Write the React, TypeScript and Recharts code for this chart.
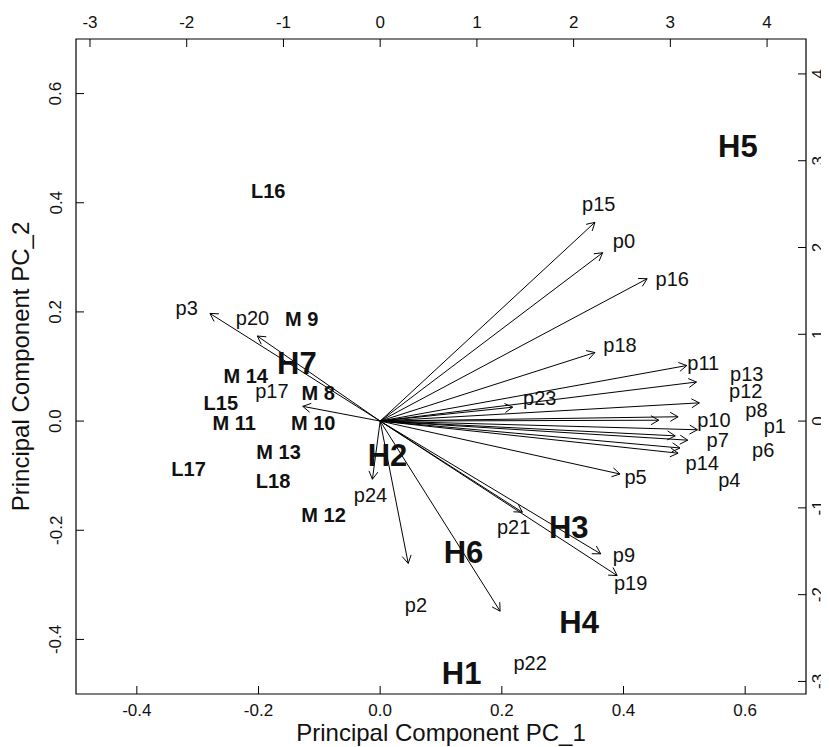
import React from 'react';
import { ScatterChart, Scatter, XAxis, YAxis, ReferenceLine, ReferenceArea } from 'recharts';

// ---- Observations (scores, bottom/left axes: PC_1, PC_2) ----
const obsNames = ['H1', 'H2', 'H3', 'H4', 'H5', 'H6', 'H7', 'M 8', 'M 9', 'M 10', 'M 11', 'M 12', 'M 13', 'M 14', 'L15', 'L16', 'L17', 'L18'];
const obsPC1 = [0.134, 0.012, 0.310, 0.327, 0.588, 0.137, -0.137, -0.102, -0.129, -0.110, -0.240, -0.093, -0.167, -0.221, -0.262, -0.184, -0.315, -0.176];
const obsPC2 = [-0.462, -0.062, -0.194, -0.368, 0.504, -0.239, 0.106, 0.051, 0.188, -0.003, -0.003, -0.172, -0.056, 0.083, 0.033, 0.422, -0.088, -0.109];

// ---- Variables (loadings, top/right axes) ----
const varNames = ['p0', 'p1', 'p2', 'p3', 'p4', 'p5', 'p6', 'p7', 'p8', 'p9', 'p10', 'p11', 'p12', 'p13', 'p14', 'p15', 'p16', 'p17', 'p18', 'p19', 'p20', 'p21', 'p22', 'p23', 'p24'];
const varTipX = [2.30, 3.28, 0.29, -1.76, 3.08, 2.48, 3.18, 3.05, 3.08, 2.28, 2.88, 3.17, 3.30, 3.27, 3.10, 2.22, 2.76, -0.80, 2.22, 2.45, -1.27, 1.47, 1.24, 1.37, -0.08];
const varTipY = [1.94, -0.10, -1.64, 1.24, -0.37, -0.61, -0.22, -0.17, 0.05, -1.53, 0.01, 0.64, 0.21, 0.45, -0.31, 2.29, 1.64, 0.17, 0.79, -1.78, 0.98, -1.05, -2.19, 0.16, -0.67];
const varLabelX = [2.52, 4.08, 0.37, -2.00, 3.61, 2.64, 3.96, 3.49, 3.89, 2.52, 3.45, 3.34, 3.78, 3.79, 3.33, 2.26, 3.02, -1.12, 2.48, 2.59, -1.32, 1.38, 1.55, 1.65, -0.10];
const varLabelY = [2.05, -0.08, -2.14, 1.28, -0.70, -0.67, -0.35, -0.24, 0.10, -1.57, -0.01, 0.65, 0.32, 0.52, -0.50, 2.48, 1.62, 0.32, 0.86, -1.89, 1.16, -1.24, -2.81, 0.24, -0.87];

// ---- Axes ----
const pcTicks = [-0.4, -0.2, 0.0, 0.2, 0.4, 0.6];
const loadTicks = [-3, -2, -1, 0, 1, 2, 3, 4];
const pcDomain: [number, number] = [-0.5, 0.7];
const loadRatio = 0.159;
const loadDomain: [number, number] = [pcDomain[0] / loadRatio, pcDomain[1] / loadRatio];
const xTitle = 'Principal Component PC_1';
const yTitle = 'Principal Component PC_2';

const obsData = obsNames.map((name, i) => ({ name, x: obsPC1[i], y: obsPC2[i] }));
const varLabelData = varNames.map((name, i) => ({ name, x: varLabelX[i], y: varLabelY[i] }));

const FONT = '"Liberation Sans", Arial, Helvetica, sans-serif';
const INK = '#111';

const makeTick = (side: string, fmt: (v: number) => string) => (props: any) => {
  const { x, y, payload } = props;
  const L = 8;
  let x2 = x, y2 = y, tx = x, ty = y, rot = false;
  if (side === 'bottom') { y2 = y - L; ty = y + 16; }
  if (side === 'top') { y2 = y + L; ty = y - 17; }
  if (side === 'left') { x2 = x + L; tx = x - 20; rot = true; }
  if (side === 'right') { x2 = x - L; tx = x + 13; rot = true; }
  return (
    <g>
      <line x1={x} y1={y} x2={x2} y2={y2} stroke="#000" strokeWidth={1} />
      <text x={tx} y={ty} textAnchor="middle" dominantBaseline="central" fontSize={17} fill={INK} fontFamily={FONT}
        transform={rot ? `rotate(-90 ${tx} ${ty})` : undefined}>{fmt(payload.value)}</text>
    </g>
  );
};

const fmtPC = (v: number) => v.toFixed(1);
const fmtLoad = (v: number) => String(v);

const arrowShape = (props: any) => {
  const { x1, y1, x2, y2 } = props;
  const ang = Math.atan2(y2 - y1, x2 - x1);
  const L = 9, a = Math.PI / 6;
  const ax = x2 - L * Math.cos(ang - a), ay = y2 - L * Math.sin(ang - a);
  const bx = x2 - L * Math.cos(ang + a), by = y2 - L * Math.sin(ang + a);
  return (
    <g>
      <line x1={x1} y1={y1} x2={x2} y2={y2} stroke="#000" strokeWidth={1} />
      <polyline points={`${ax},${ay} ${x2},${y2} ${bx},${by}`} fill="none" stroke="#000" strokeWidth={1} />
    </g>
  );
};

const varLabelShape = (props: any) => {
  const { cx, cy, payload } = props;
  const fs = 20;
  return <text x={cx} y={cy + 0.253 * fs} textAnchor="middle" fontSize={fs} fill={INK} fontFamily={FONT}>{payload.name}</text>;
};

const obsShape = (props: any) => {
  const { cx, cy, payload } = props;
  const fs = payload.name.startsWith('H') ? 31 : 20;
  return <text x={cx} y={cy + 0.358 * fs} textAnchor="middle" fontWeight="bold" fontSize={fs} fill={INK} fontFamily={FONT}>{payload.name}</text>;
};

export default function App() {
  const W = 821, H = 739;
  return (
    <div style={{ position: 'relative', width: W, height: H, fontFamily: FONT }}>
      <ScatterChart width={W} height={H} margin={{ top: 1, right: 0, bottom: 0, left: 8 }}>
        <XAxis xAxisId="pc" orientation="bottom" type="number" dataKey="x" domain={pcDomain} ticks={pcTicks} height={53}
          axisLine={false} tickLine={false} tickSize={0} tickMargin={0} interval={0} allowDataOverflow tick={makeTick('bottom', fmtPC)} />
        <XAxis xAxisId="ld" orientation="top" type="number" dataKey="x" domain={loadDomain} ticks={loadTicks} height={30}
          axisLine={false} tickLine={false} tickSize={0} tickMargin={0} interval={0} allowDataOverflow tick={makeTick('top', fmtLoad)} />
        <YAxis yAxisId="pc" orientation="left" type="number" dataKey="y" domain={pcDomain} ticks={pcTicks} width={60}
          axisLine={false} tickLine={false} tickSize={0} tickMargin={0} interval={0} allowDataOverflow tick={makeTick('left', fmtPC)} />
        <YAxis yAxisId="ld" orientation="right" type="number" dataKey="y" domain={loadDomain} ticks={loadTicks} width={23}
          axisLine={false} tickLine={false} tickSize={0} tickMargin={0} interval={0} allowDataOverflow tick={makeTick('right', fmtLoad)} />
        <ReferenceArea xAxisId="pc" yAxisId="pc" x1={pcDomain[0]} x2={pcDomain[1]} y1={pcDomain[0]} y2={pcDomain[1]}
          fill="none" fillOpacity={0} stroke="#000" strokeWidth={1.2} strokeOpacity={1} ifOverflow="visible" />
        {varNames.map((n, i) => (
          <ReferenceLine key={n} xAxisId="ld" yAxisId="ld" ifOverflow="visible"
            segment={[{ x: 0, y: 0 }, { x: varTipX[i], y: varTipY[i] }]} shape={arrowShape} />
        ))}
        <Scatter name="variables" data={varLabelData} xAxisId="ld" yAxisId="ld" shape={varLabelShape} isAnimationActive={false} />
        <Scatter name="observations" data={obsData} xAxisId="pc" yAxisId="pc" shape={obsShape} isAnimationActive={false} />
      </ScatterChart>
      <svg width={W} height={H} style={{ position: 'absolute', left: 0, top: 0, pointerEvents: 'none' }}>
        <text x={433} y={733} textAnchor="middle" fontSize={24} fill={INK} fontFamily={FONT}>{xTitle}</text>
        <text x={21} y={358.5} textAnchor="middle" fontSize={24} fill={INK} fontFamily={FONT}
          transform="rotate(-90 21 358.5)">{yTitle}</text>
      </svg>
    </div>
  );
}
